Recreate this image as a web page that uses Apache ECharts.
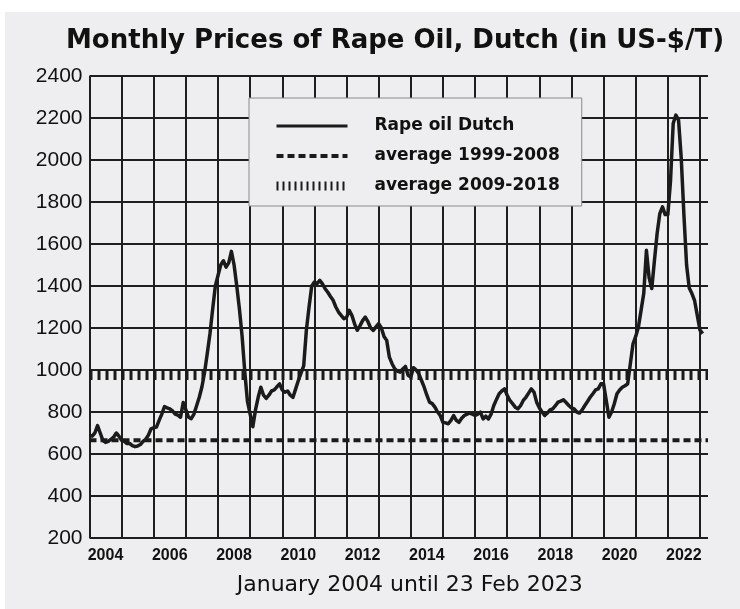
<!DOCTYPE html>
<html>
<head>
<meta charset="utf-8">
<script src="https://cdn.jsdelivr.net/npm/echarts@6/dist/echarts.min.js"></script>
<style>
  html, body { margin: 0; padding: 0; background: #ffffff; }
  #chart { position: absolute; left: 5px; top: 12px; width: 735px; height: 597px; background: #eeeef0; }
</style>
</head>
<body>
<div id="chart"></div>
<script>
  // monthly prices, US-$/T, Jan 2004 .. Feb 2023
  const startYear = 2004
  const prices = [
    690, 685, 700, 735, 700, 665, 655, 660, 670, 680, 700, 685, // 2004
    665, 660, 650, 650, 640, 635, 638, 645, 660, 670, 690, 720, // 2005
    725, 728, 760, 790, 826, 820, 815, 805, 790, 785, 775, 845, // 2006
    810, 775, 768, 790, 830, 870, 920, 990, 1080, 1174, 1290, 1400, // 2007
    1450, 1500, 1520, 1490, 1510, 1565, 1500, 1400, 1290, 1160, 990, 850, // 2008
    790, 730, 810, 870, 918, 880, 865, 880, 900, 905, 920, 934, // 2009
    905, 894, 900, 880, 870, 910, 950, 985, 1020, 1190, 1300, 1400, // 2010
    1419, 1411, 1427, 1410, 1387, 1370, 1350, 1332, 1300, 1276, 1260, 1244, // 2011
    1250, 1284, 1260, 1220, 1189, 1210, 1235, 1252, 1230, 1200, 1189, 1205, // 2012
    1221, 1200, 1160, 1141, 1061, 1030, 1006, 995, 990, 1005, 1017, 975, // 2013
    966, 1011, 1000, 982, 950, 918, 880, 847, 840, 823, 800, 783, // 2014
    751, 748, 744, 760, 783, 760, 751, 770, 783, 790, 795, 790, // 2015
    783, 790, 799, 767, 780, 767, 790, 831, 860, 887, 900, 910, // 2016
    880, 855, 840, 823, 815, 830, 855, 870, 890, 910, 895, 847, // 2017
    820, 800, 783, 795, 810, 815, 830, 847, 852, 858, 845, 831, // 2018
    820, 815, 800, 795, 810, 831, 850, 870, 887, 905, 910, 934, // 2019
    934, 855, 775, 800, 839, 887, 905, 918, 925, 934, 1030, 1125, // 2020
    1160, 1204, 1284, 1364, 1570, 1440, 1388, 1522, 1650, 1745, 1777, 1740, // 2021
    1740, 1900, 2174, 2214, 2190, 2010, 1740, 1500, 1390, 1364, 1330, 1260, // 2022
    1190, 1173, // 2023
  ]
  const avg1999to2008 = 665
  const avg2009to2018 = 976
  const xMin = 2004
  const xMax = 2023.25
  const yTicks = [200, 2400, 200] // min, max, step

  const seriesNames = ['Rape oil Dutch', 'average 1999-2008', 'average 2009-2018']
  const lineColor = '#1b1b1b'
  const gridColor = '#1e1e1e'
  const font = 'Liberation Sans, Arial, sans-serif'
  const wideFont = 'DejaVu Sans, Verdana, sans-serif'

  const priceData = prices.map((v, i) => [startYear + i / 12, v])

  const option = {
    animation: false,
    textStyle: { fontFamily: font, color: '#111' },
    title: {
      text: 'Monthly Prices of Rape Oil, Dutch (in US-$/T)',
      left: 390,
      textAlign: 'center',
      top: 16,
      padding: 0,
      textStyle: { fontSize: 26, fontWeight: 'bold', color: '#111', fontFamily: wideFont },
    },
    legend: {
      orient: 'vertical',
      left: 244,
      top: 86,
      padding: [18, 22, 10, 23],
      itemGap: 10,
      itemWidth: 71,
      itemHeight: 14,
      backgroundColor: '#eeeef0',
      borderColor: '#8a8a8a',
      borderWidth: 1,
      borderRadius: 0,
      selectedMode: false,
      itemStyle: { opacity: 0 },
      textStyle: {
        fontSize: 17,
        fontWeight: 'bold',
        color: '#111',
        fontFamily: wideFont,
        lineHeight: 20,
        padding: [0, 0, 0, 22],
      },
      data: [
        { name: seriesNames[0], lineStyle: { width: 3, type: 'solid', color: lineColor } },
        { name: seriesNames[1], lineStyle: { width: 4, type: [7, 4], color: lineColor } },
        { name: seriesNames[2], lineStyle: { width: 9, type: [2, 4], color: lineColor } },
      ],
    },
    grid: { left: 84.5, right: 32, top: 64, bottom: 71 },
    xAxis: {
      type: 'value',
      min: xMin,
      max: xMax,
      interval: 1,
      name: 'January 2004 until 23 Feb 2023',
      nameLocation: 'middle',
      nameGap: 36,
      nameTextStyle: { fontSize: 22, color: '#111', fontFamily: wideFont, padding: [0, 0, 0, 22] },
      axisLine: { show: false },
      axisTick: { show: false },
      axisLabel: {
        margin: 10,
        fontSize: 16,
        fontWeight: 'bold',
        color: '#111',
        padding: [0, 0, 0, 32],
        formatter: (v) => (Number.isInteger(v) && v % 2 === 0 ? String(v) : ''),
      },
      splitLine: { show: true, showMaxLine: false, lineStyle: { color: gridColor, width: 2 } },
    },
    yAxis: {
      type: 'value',
      min: yTicks[0],
      max: yTicks[1],
      interval: yTicks[2],
      axisLine: { show: false },
      axisTick: { show: false },
      axisLabel: { margin: 7, fontSize: 21, color: '#111', formatter: (v) => String(v) },
      splitLine: { show: true, lineStyle: { color: gridColor, width: 2 } },
    },
    series: [
      {
        name: seriesNames[0],
        type: 'line',
        data: priceData,
        symbol: 'none',
        z: 5,
        lineStyle: { color: lineColor, width: 3.5, join: 'round' },
        itemStyle: { color: lineColor },
      },
      {
        name: seriesNames[1],
        type: 'line',
        data: [[xMin, avg1999to2008], [xMax, avg1999to2008]],
        symbol: 'none',
        z: 3,
        lineStyle: { color: lineColor, width: 4, type: [7, 4] },
        itemStyle: { color: lineColor },
      },
      {
        name: seriesNames[2],
        type: 'line',
        data: [[xMin, avg2009to2018], [xMax, avg2009to2018]],
        symbol: 'none',
        z: 3,
        lineStyle: { color: lineColor, width: 10, type: [3, 5] },
        itemStyle: { color: lineColor },
      },
    ],
  }

  const chart = echarts.init(document.getElementById('chart'), null, { renderer: 'canvas' })
  chart.setOption(option)
  window.addEventListener('resize', () => chart.resize())
</script>
</body>
</html>
